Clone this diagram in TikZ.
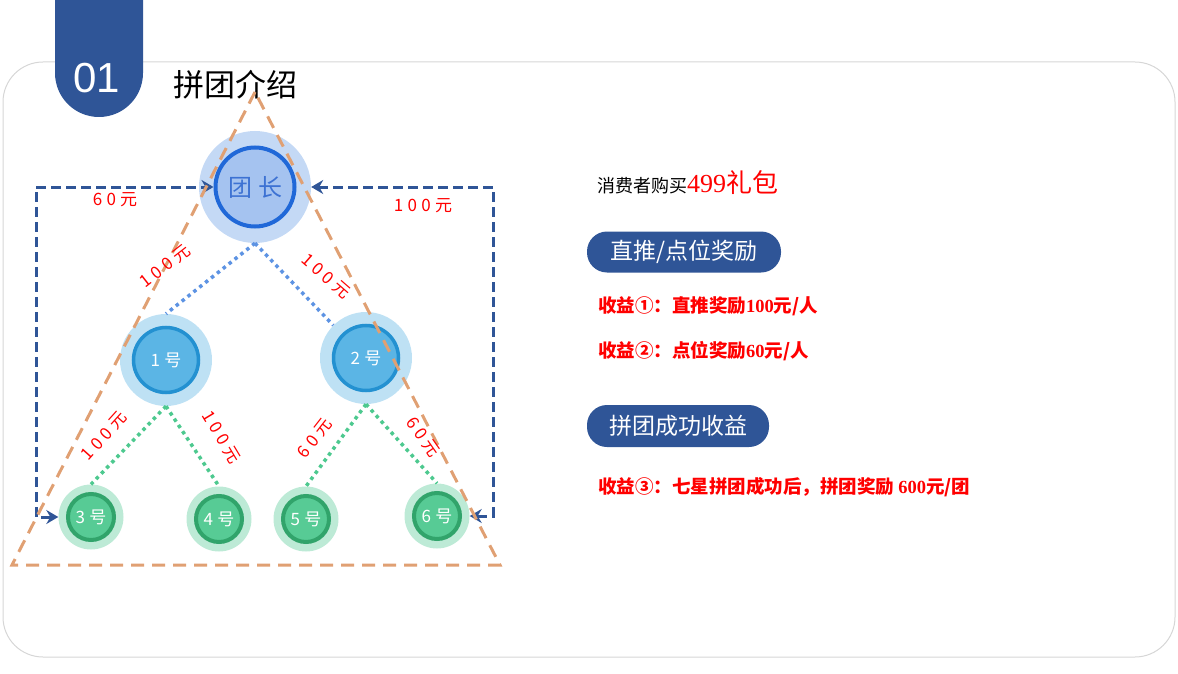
\documentclass[tikz,border=0pt]{standalone}
\usepackage{fontspec}
\setmainfont{Noto Sans CJK SC}
\newfontfamily\numfont{Liberation Sans}
\newfontfamily\digitfont{Liberation Serif}
\newfontfamily\spacedfont[LetterSpace=25]{Noto Sans CJK SC}
\newcommand{\fsz}[1]{\fontsize{#1}{#1}\selectfont}
\definecolor{Tabcol}{HTML}{2F5597}
\definecolor{Panelcol}{HTML}{D6D6D6}
\definecolor{Tricol}{HTML}{E0A073}
\definecolor{Moneycol}{HTML}{FF0000}
\definecolor{Leadhalo}{HTML}{C4D9F5}
\definecolor{Leadfill}{HTML}{A5C3F0}
\definecolor{Leadedge}{HTML}{2068D8}
\definecolor{Leadtext}{HTML}{3D72D3}
\definecolor{Midhalo}{HTML}{BEE1F4}
\definecolor{Midfill}{HTML}{5BB5E5}
\definecolor{Midedge}{HTML}{2391D1}
\definecolor{Lowhalo}{HTML}{BDEAD6}
\definecolor{Lowfill}{HTML}{57CB95}
\definecolor{Lowedge}{HTML}{31A46B}
\definecolor{Bluedot}{HTML}{5D93E3}
\definecolor{Greendot}{HTML}{4DC98F}
\usetikzlibrary{calc, arrows.meta, positioning}
\tikzset{
    >=Stealth,
    halo/.style={circle, inner sep=0pt},
    leadhalo/.style={halo, fill=Leadhalo, minimum size=112pt},
    leadring/.style={halo, fill=Leadfill, draw=Leadedge, line width=4pt, minimum size=79pt,
        text=Leadtext, font={\spacedfont\fsz{24}}},
    midhalo/.style={halo, fill=Midhalo, minimum size=92pt},
    midring/.style={halo, fill=Midfill, draw=Midedge, line width=3.5pt, minimum size=65pt,
        text=white, font={\spacedfont\fsz{17}}},
    lowhalo/.style={halo, fill=Lowhalo, minimum size=65pt},
    lowring/.style={halo, fill=Lowfill, draw=Lowedge, line width=4pt, minimum size=46pt,
        text=white, font={\spacedfont\fsz{17}}},
    tri/.style={Tricol, line width=3pt, dash pattern=on 13pt off 8pt},
    rail/.style={Tabcol, line width=3pt, dash pattern=on 10pt off 5pt,
        arrows={Stealth[length=12pt, width=14pt, inset=4pt]-Stealth[length=12pt, width=14pt, inset=4pt]}},
    bluedots/.style={Bluedot, line width=3.5pt, dash pattern=on 3.5pt off 4pt},
    greendots/.style={Greendot, line width=3.5pt, dash pattern=on 3.5pt off 4pt},
    money/.style={text=Moneycol, font={\spacedfont\fsz{17}}, inner sep=0pt},
    pill/.style={fill=Tabcol, text=white, rounded corners=20pt, font=\fsz{23}, inner sep=0pt},
    gain/.style={anchor=base west, inner sep=0pt, text=Moneycol, font={\bfseries\fsz{18.5}}}
}

\begin{document}
\begin{tikzpicture}[x=1pt, y=-1pt]
    \useasboundingbox (0,0) rectangle (1178,674);

    % Panel and tab
    \draw[Panelcol, line width=1pt, rounded corners=40pt] (3,62) rectangle (1175,657);
    \begin{scope}
        \clip (0,0) rectangle (1178,674);
        \fill[Tabcol, rounded corners=44pt] (55,-60) rectangle (143,117);
    \end{scope}
    \node[text=white, font={\numfont\fsz{42}}] (num) at (97,78) {01};
    \node[anchor=base west, font=\fsz{31}, inner sep=0pt] (title) at (173,97) {拼团介绍};

    % Leader
    \node[leadhalo] (leadh) at (255,187) {};
    \node[leadring] (lead) at (leadh) {团长};

    % Second level
    \node[midhalo] (n1h) at (166,360) {};
    \node[midring] (n1) at (n1h) {1号};
    \node[midhalo] (n2h) at (366,358) {};
    \node[midring] (n2) at (n2h) {2号};

    % Third level
    \node[lowhalo] (n3h) at (91,517) {};
    \node[lowring] (n3) at (n3h) {3号};
    \node[lowhalo] (n4h) at (219,519) {};
    \node[lowring] (n4) at (n4h) {4号};
    \node[lowhalo] (n5h) at (306,519) {};
    \node[lowring] (n5) at (n5h) {5号};
    \node[lowhalo] (n6h) at (437,516) {};
    \node[lowring] (n6) at (n6h) {6号};

    % Dotted links
    \draw[bluedots] (leadh.south) -- (n1h.north);
    \draw[bluedots] (leadh.south) -- (n2h.north west);
    \draw[greendots] (n1h.south) -- (n3h.north);
    \draw[greendots] (n1h.south) -- (n4h.north);
    \draw[greendots] (n2h.south) -- (n5h.north);
    \draw[greendots] (n2h.south) -- (n6h.north);

    % Dashed return paths
    \coordinate (leftrail) at (36,0);
    \coordinate (rightrail) at (493,0);
    \draw[rail] (n3h.west) -- (leftrail |- n3h.west) -- (leftrail |- lead.west) -- (lead.west);
    \draw[rail] (n6h.east) -- (rightrail |- n6h.east) -- (rightrail |- leadh.east) -- (leadh.east);

    % Triangle outline
    \draw[tri] (255,92) -- (12,565) -- (500,565) -- cycle;

    % Amount labels
    \node[money] (m1) at (115,200) {60元};
    \node[money] (m2) at (423,206) {100元};
    \node[money, rotate=38] (m3) at (165,266) {100元};
    \node[money, rotate=-41] (m4) at (326,276) {100元};
    \node[money, rotate=48] (m5) at (104,436) {100元};
    \node[money, rotate=-59] (m6) at (221,437) {100元};
    \node[money, rotate=52] (m7) at (315,438) {60元};
    \node[money, rotate=-55] (m8) at (423,437) {60元};

    % Right side text
    \node[anchor=base west, inner sep=0pt, font=\fsz{18}] (buy) at (597,192)
        {消费者购买\textcolor{Moneycol}{\fsz{26}{\digitfont 499}礼包}};
    \node[pill, minimum width=194pt, minimum height=41pt] (pillA) at (684,252) {直推/点位奖励};
    \node[gain] (g1) at (598,312) {收益①：直推奖励{\digitfont 100}元/人};
    \node[gain] (g2) at (598,357) {收益②：点位奖励{\digitfont 60}元/人};
    \node[pill, minimum width=182pt, minimum height=42pt] (pillB) at (678,426) {拼团成功收益};
    \node[gain] (g3) at (598,493) {收益③：七星拼团成功后，拼团奖励 {\digitfont 600}元/团};
\end{tikzpicture}
\end{document}
